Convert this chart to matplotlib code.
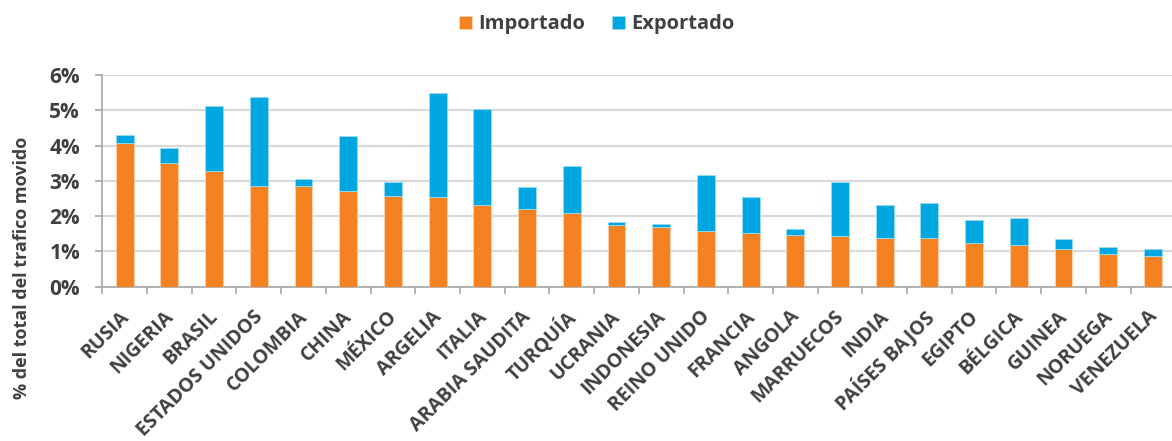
import matplotlib
matplotlib.use("Agg")
import matplotlib.pyplot as plt
import matplotlib.transforms as mtrans
import numpy as np
from matplotlib.ticker import FixedLocator, PercentFormatter

paises = ["RUSIA", "NIGERIA", "BRASIL", "ESTADOS UNIDOS", "COLOMBIA", "CHINA",
          "MÉXICO", "ARGELIA", "ITALIA", "ARABIA SAUDITA", "TURQUÍA", "UCRANIA",
          "INDONESIA", "REINO UNIDO", "FRANCIA", "ANGOLA", "MARRUECOS", "INDIA",
          "PAÍSES BAJOS", "EGIPTO", "BÉLGICA", "GUINEA", "NORUEGA", "VENEZUELA"]
importado = [4.06, 3.50, 3.28, 2.85, 2.84, 2.70, 2.57, 2.55, 2.32, 2.19, 2.10, 1.74,
             1.69, 1.57, 1.51, 1.47, 1.44, 1.39, 1.37, 1.23, 1.17, 1.08, 0.92, 0.88]
total = [4.30, 3.92, 5.13, 5.37, 3.05, 4.26, 2.97, 5.48, 5.04, 2.83, 3.42, 1.82,
         1.78, 3.17, 2.53, 1.64, 2.96, 2.31, 2.37, 1.88, 1.96, 1.35, 1.12, 1.07]
exportado = [t - i for t, i in zip(total, importado)]

ORANGE = "#F58220"
BLUE = "#00A7E1"
TXT = "#404040"

plt.rcParams['font.family'] = ['Open Sans', 'DejaVu Sans']
plt.rcParams['font.weight'] = 'bold'

fig = plt.figure(figsize=(11.72, 4.41), dpi=100)
W, H = 1172, 441
ax = fig.add_axes([102.3 / W, 154.3 / H, 1073 / W, 211.7 / H])

x = np.arange(len(paises))
b1 = ax.bar(x, importado, width=0.40, color=ORANGE, edgecolor="#FBD3B0", linewidth=0.6,
            label="Importado", zorder=3)
b2 = ax.bar(x, exportado, width=0.40, bottom=importado, color=BLUE, edgecolor="#9ADCF3",
            linewidth=0.6, label="Exportado", zorder=3)

ax.set_xlim(-0.5, len(paises) - 0.5)
ax.set_ylim(0, 6)
ax.yaxis.set_major_locator(FixedLocator(np.arange(0, 7, 1)))
ax.yaxis.set_major_formatter(PercentFormatter(decimals=0))
ax.grid(axis='y', color="#D9D9D9", linewidth=1.5, zorder=0)
ax.set_axisbelow(True)

for s in ["top", "right"]:
    ax.spines[s].set_visible(False)
ax.spines["left"].set_color("#A6A6A6")
ax.spines["bottom"].set_color("#A6A6A6")
ax.spines["left"].set_linewidth(1.2)
ax.spines["bottom"].set_linewidth(1.2)

ax.set_xticks(x)
ax.set_xticklabels(paises, rotation=45, ha='right', va='top', rotation_mode='anchor',
                   fontsize=14, fontweight='bold', color=TXT)
ax.tick_params(axis='x', which='major', length=0, pad=14.5)
offset = mtrans.ScaledTranslation(-6 / 100, 0, fig.dpi_scale_trans)
for lab in ax.get_xticklabels():
    lab.set_transform(lab.get_transform() + offset)
ax.set_xticks(np.arange(-0.5, len(paises), 1), minor=True)
ax.tick_params(axis='x', which='minor', length=5, color="#A6A6A6", width=1.2)
ax.tick_params(axis='y', length=5, color="#A6A6A6", width=1.2, labelsize=15,
               labelcolor=TXT, pad=11)
for lab in ax.get_yticklabels():
    lab.set_fontweight('bold')

fig.text(22.5 / W, 1 - 268 / H, "% del total del trafico movido", rotation=90,
         ha='center', va='center', fontsize=13, fontweight='bold', color=TXT)

leg = fig.legend(handles=[b1, b2], loc='center', bbox_to_anchor=(597 / W, 1 - 24.5 / H),
                 ncol=2, frameon=False, fontsize=14.5, handlelength=0.65,
                 handleheight=0.65, handletextpad=0.3, columnspacing=1.35)
for t in leg.get_texts():
    t.set_color(TXT)
    t.set_fontweight('bold')

fig.savefig("out.png", dpi=100)
